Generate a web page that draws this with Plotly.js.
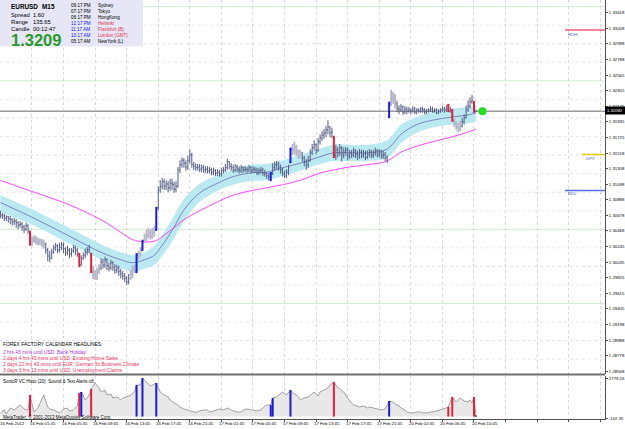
<!DOCTYPE html>
<html><head><meta charset="utf-8">
<script src="https://cdn.plot.ly/plotly-3.0.1.min.js"></script>
<style>html,body{margin:0;padding:0;background:#fff}#c{width:625px;height:429px}</style>
</head><body><div id="c"></div><script>
// ---- EURUSD M15 bars (price) ----
const open=[1.3072,1.3069,1.3068,1.3065,1.3067,1.3064,1.3063,1.3060,1.3061,1.3059,
1.3056,1.3057,1.3053,1.3050,1.3055,1.3046,1.3030,1.3036,1.3038,1.3036,
1.3033,1.3034,1.3032,1.3030,1.3022,1.3014,1.3011,1.3019,1.3025,1.3028,
1.3022,1.3026,1.3029,1.3024,1.3019,1.3022,1.3017,1.3021,1.3025,1.3022,
1.3017,1.3002,1.3011,1.3015,1.3019,1.3022,1.3017,1.2993,1.2989,1.2984,
1.2993,1.2998,1.3006,1.3002,1.3009,1.3001,1.2998,1.3005,1.2999,1.2995,
1.2998,1.2993,1.2990,1.2987,1.2984,1.2979,1.2984,1.2989,1.2995,1.2993,
1.3015,1.3017,1.3022,1.3034,1.3038,1.3042,1.3046,1.3041,1.3045,1.3049,
1.3079,1.3103,1.3108,1.3114,1.3108,1.3111,1.3106,1.3112,1.3110,1.3104,
1.3108,1.3130,1.3137,1.3143,1.3139,1.3134,1.3143,1.3150,1.3137,1.3135,
1.3133,1.3134,1.3131,1.3133,1.3130,1.3131,1.3129,1.3130,1.3127,1.3129,
1.3126,1.3127,1.3125,1.3129,1.3130,1.3133,1.3141,1.3135,1.3133,1.3130,
1.3134,1.3131,1.3129,1.3133,1.3130,1.3131,1.3130,1.3133,1.3129,1.3131,
1.3130,1.3127,1.3129,1.3130,1.3126,1.3125,1.3122,1.3116,1.3126,1.3133,
1.3137,1.3138,1.3134,1.3130,1.3125,1.3122,1.3127,1.3141,1.3158,1.3157,
1.3160,1.3154,1.3150,1.3153,1.3146,1.3141,1.3137,1.3143,1.3154,1.3160,
1.3164,1.3157,1.3168,1.3173,1.3177,1.3180,1.3184,1.3188,1.3180,1.3174,
1.3149,1.3157,1.3153,1.3160,1.3150,1.3154,1.3157,1.3149,1.3153,1.3150,
1.3156,1.3151,1.3149,1.3154,1.3150,1.3153,1.3147,1.3151,1.3154,1.3150,
1.3153,1.3156,1.3151,1.3154,1.3149,1.3151,1.3146,1.3201,1.3219,1.3224,
1.3230,1.3219,1.3213,1.3211,1.3215,1.3208,1.3212,1.3209,1.3211,1.3209,
1.3212,1.3208,1.3211,1.3209,1.3212,1.3211,1.3208,1.3209,1.3211,1.3212,
1.3209,1.3211,1.3208,1.3209,1.3211,1.3212,1.3211,1.3217,1.3209,1.3211,
1.3196,1.3192,1.3188,1.3185,1.3189,1.3195,1.3200,1.3211,1.3216,1.3222,
1.3222,1.3209];
const high=[1.3075,1.3072,1.3071,1.3069,1.3068,1.3068,1.3065,1.3065,1.3064,1.3061,
1.3061,1.3060,1.3056,1.3059,1.3057,1.3048,1.3040,1.3042,1.3041,1.3038,
1.3038,1.3037,1.3036,1.3032,1.3025,1.3021,1.3024,1.3029,1.3032,1.3030,
1.3032,1.3033,1.3032,1.3026,1.3028,1.3025,1.3025,1.3029,1.3028,1.3025,
1.3018,1.3015,1.3019,1.3024,1.3026,1.3029,1.3018,1.3001,1.2995,1.2998,
1.3003,1.3011,1.3010,1.3013,1.3011,1.3005,1.3009,1.3007,1.3003,1.3002,
1.3001,1.2997,1.2994,1.2991,1.2987,1.2990,1.2995,1.3001,1.3003,1.3018,
1.3021,1.3026,1.3036,1.3044,1.3049,1.3052,1.3050,1.3052,1.3055,1.3080,
1.3108,1.3116,1.3119,1.3118,1.3116,1.3115,1.3118,1.3118,1.3114,1.3115,
1.3134,1.3143,1.3147,1.3146,1.3143,1.3149,1.3158,1.3153,1.3141,1.3139,
1.3138,1.3138,1.3137,1.3137,1.3135,1.3135,1.3134,1.3133,1.3133,1.3131,
1.3131,1.3130,1.3133,1.3134,1.3138,1.3145,1.3142,1.3139,1.3137,1.3138,
1.3137,1.3135,1.3137,1.3135,1.3135,1.3134,1.3137,1.3135,1.3135,1.3134,
1.3133,1.3133,1.3134,1.3133,1.3130,1.3127,1.3126,1.3127,1.3139,1.3141,
1.3142,1.3141,1.3137,1.3133,1.3129,1.3131,1.3137,1.3160,1.3165,1.3168,
1.3164,1.3158,1.3157,1.3154,1.3149,1.3145,1.3149,1.3158,1.3165,1.3170,
1.3166,1.3173,1.3178,1.3182,1.3185,1.3189,1.3197,1.3189,1.3187,1.3176,
1.3164,1.3161,1.3165,1.3162,1.3160,1.3161,1.3160,1.3157,1.3157,1.3160,
1.3158,1.3156,1.3158,1.3157,1.3157,1.3156,1.3156,1.3158,1.3157,1.3157,
1.3160,1.3158,1.3158,1.3157,1.3156,1.3154,1.3150,1.3222,1.3238,1.3235,
1.3232,1.3223,1.3217,1.3219,1.3217,1.3216,1.3215,1.3215,1.3213,1.3216,
1.3215,1.3213,1.3213,1.3215,1.3215,1.3213,1.3212,1.3213,1.3216,1.3215,
1.3213,1.3213,1.3212,1.3213,1.3216,1.3215,1.3217,1.3219,1.3215,1.3212,
1.3200,1.3196,1.3193,1.3196,1.3200,1.3205,1.3217,1.3224,1.3228,1.3231,
1.3223,1.3211];
const low=[1.3065,1.3064,1.3061,1.3061,1.3059,1.3057,1.3055,1.3056,1.3052,1.3050,
1.3052,1.3048,1.3045,1.3048,1.3044,1.3028,1.3028,1.3032,1.3030,1.3028,
1.3029,1.3026,1.3024,1.3017,1.3007,1.3006,1.3010,1.3017,1.3021,1.3018,
1.3019,1.3022,1.3018,1.3014,1.3015,1.3011,1.3013,1.3018,1.3015,1.3013,
1.2999,1.3001,1.3009,1.3011,1.3015,1.3018,1.2991,1.2983,1.2982,1.2982,
1.2990,1.2995,1.2997,1.2998,1.2995,1.2993,1.2995,1.2994,1.2990,1.2991,
1.2987,1.2984,1.2982,1.2979,1.2975,1.2976,1.2982,1.2984,1.2991,1.2991,
1.3009,1.3013,1.3021,1.3032,1.3034,1.3038,1.3036,1.3037,1.3040,1.3048,
1.3076,1.3099,1.3104,1.3103,1.3103,1.3100,1.3102,1.3103,1.3099,1.3100,
1.3106,1.3126,1.3133,1.3133,1.3129,1.3130,1.3139,1.3133,1.3130,1.3129,
1.3129,1.3127,1.3127,1.3126,1.3126,1.3125,1.3125,1.3123,1.3123,1.3122,
1.3122,1.3121,1.3121,1.3125,1.3127,1.3130,1.3131,1.3129,1.3126,1.3127,
1.3127,1.3125,1.3126,1.3126,1.3127,1.3126,1.3127,1.3125,1.3126,1.3126,
1.3123,1.3123,1.3125,1.3122,1.3121,1.3118,1.3116,1.3115,1.3123,1.3129,
1.3131,1.3129,1.3125,1.3121,1.3119,1.3119,1.3123,1.3139,1.3150,1.3151,
1.3149,1.3145,1.3146,1.3141,1.3135,1.3130,1.3133,1.3141,1.3150,1.3156,
1.3151,1.3154,1.3164,1.3169,1.3172,1.3174,1.3178,1.3174,1.3173,1.3146,
1.3143,1.3147,1.3149,1.3141,1.3146,1.3149,1.3143,1.3145,1.3146,1.3147,
1.3146,1.3143,1.3145,1.3146,1.3146,1.3143,1.3145,1.3147,1.3146,1.3146,
1.3149,1.3147,1.3147,1.3145,1.3145,1.3142,1.3139,1.3200,1.3216,1.3219,
1.3213,1.3208,1.3205,1.3208,1.3204,1.3205,1.3205,1.3207,1.3205,1.3207,
1.3205,1.3205,1.3207,1.3207,1.3207,1.3205,1.3205,1.3207,1.3208,1.3207,
1.3207,1.3205,1.3205,1.3207,1.3208,1.3207,1.3208,1.3208,1.3207,1.3195,
1.3188,1.3184,1.3181,1.3182,1.3187,1.3191,1.3199,1.3208,1.3213,1.3219,
1.3207,1.3208];
const close=[1.3069,1.3068,1.3065,1.3067,1.3064,1.3063,1.3060,1.3061,1.3059,1.3056,
1.3057,1.3053,1.3050,1.3055,1.3048,1.3030,1.3036,1.3038,1.3036,1.3033,
1.3034,1.3032,1.3030,1.3022,1.3014,1.3011,1.3019,1.3025,1.3028,1.3022,
1.3026,1.3029,1.3024,1.3019,1.3022,1.3017,1.3021,1.3025,1.3022,1.3018,
1.3002,1.3011,1.3015,1.3019,1.3022,1.3025,1.2993,1.2989,1.2984,1.2993,
1.2998,1.3006,1.3002,1.3009,1.3001,1.2998,1.3005,1.2999,1.2995,1.2998,
1.2993,1.2990,1.2987,1.2984,1.2979,1.2984,1.2989,1.2995,1.2998,1.3015,
1.3017,1.3022,1.3034,1.3038,1.3042,1.3046,1.3041,1.3045,1.3049,1.3079,
1.3103,1.3108,1.3114,1.3108,1.3111,1.3106,1.3112,1.3110,1.3104,1.3108,
1.3130,1.3137,1.3143,1.3139,1.3134,1.3143,1.3150,1.3137,1.3135,1.3133,
1.3134,1.3131,1.3133,1.3130,1.3131,1.3129,1.3130,1.3127,1.3129,1.3126,
1.3127,1.3125,1.3129,1.3130,1.3133,1.3141,1.3135,1.3133,1.3130,1.3134,
1.3131,1.3129,1.3133,1.3130,1.3131,1.3130,1.3133,1.3129,1.3131,1.3130,
1.3127,1.3129,1.3130,1.3126,1.3125,1.3122,1.3121,1.3126,1.3133,1.3137,
1.3138,1.3134,1.3130,1.3125,1.3122,1.3127,1.3133,1.3158,1.3157,1.3160,
1.3154,1.3150,1.3153,1.3146,1.3141,1.3137,1.3143,1.3154,1.3160,1.3164,
1.3157,1.3168,1.3173,1.3177,1.3180,1.3184,1.3188,1.3180,1.3181,1.3149,
1.3157,1.3153,1.3160,1.3150,1.3154,1.3157,1.3149,1.3153,1.3150,1.3156,
1.3151,1.3149,1.3154,1.3150,1.3153,1.3147,1.3151,1.3154,1.3150,1.3153,
1.3156,1.3151,1.3154,1.3149,1.3151,1.3146,1.3143,1.3219,1.3224,1.3230,
1.3219,1.3213,1.3211,1.3215,1.3208,1.3212,1.3209,1.3211,1.3209,1.3212,
1.3208,1.3211,1.3209,1.3212,1.3211,1.3208,1.3209,1.3211,1.3212,1.3209,
1.3211,1.3208,1.3209,1.3211,1.3212,1.3211,1.3213,1.3209,1.3211,1.3196,
1.3192,1.3188,1.3185,1.3189,1.3195,1.3200,1.3211,1.3216,1.3222,1.3224,
1.3209,1.3209];
const redBars=[15,40,46,169,227,229,240];
const blueBars=[69,72,79,137,147,197];
const paleBars=[16,17,18,19,20,21,22,47,48,49,50,66,67,68,70,71,73,74,75,76,77,78,148,149,150,151,152,198,199,200,230,231,232,233];

// ---- moving averages (sampled at bar index) ----
const maIdx=[0,17,34,51,61,67,73,78,81,85,88,93,101,110,118,127,135,143,152,161,169,177,186,196,203,211,219,228,237,241];
const maMid=[1.3086,1.3065,1.3042,1.3019,1.3009,1.3005,1.3009,1.3015,1.3025,1.3040,1.3053,1.3076,1.3099,1.3112,1.3121,1.3126,1.3127,1.3133,1.3139,1.3147,1.3153,1.3153,1.3153,1.3158,1.3178,1.3191,1.3197,1.3201,1.3204,1.3207];
const maUp=[1.3096,1.3076,1.3053,1.3030,1.3019,1.3015,1.3019,1.3028,1.3038,1.3055,1.3068,1.3091,1.3111,1.3123,1.3131,1.3137,1.3138,1.3143,1.3150,1.3158,1.3164,1.3164,1.3164,1.3170,1.3191,1.3201,1.3208,1.3212,1.3215,1.3217];
const maLo=[1.3073,1.3055,1.3032,1.3009,1.2998,1.2993,1.2997,1.3002,1.3011,1.3025,1.3038,1.3061,1.3087,1.3102,1.3110,1.3115,1.3116,1.3122,1.3129,1.3137,1.3142,1.3142,1.3142,1.3146,1.3166,1.3180,1.3187,1.3191,1.3193,1.3196];
const maSlow=[1.3116,1.3100,1.3084,1.3063,1.3046,1.3036,1.3033,1.3034,1.3038,1.3046,1.3052,1.3063,1.3075,1.3087,1.3096,1.3102,1.3106,1.3110,1.3116,1.3125,1.3130,1.3134,1.3137,1.3142,1.3154,1.3162,1.3168,1.3174,1.3181,1.3185];

// ---- level lines ----
const greenLevels=[1.3350,1.3250,1.3050,1.2950];
const roundLevels=[1.3300,1.3200,1.3150,1.3100,1.3000,1.2900];
const quarterLevels=[1.3325,1.3275,1.3225,1.3175,1.3125,1.3075,1.3025,1.2975,1.2925,1.2875];
const RDH=1.33185, DPV=1.31508, RDL=1.31023;

// ---- axis labels ----
const yTickVals=[1.33418,1.33208,1.32998,1.32788,1.32578,1.32368,1.32158,1.31948,1.31738,1.31528,1.31318,1.31108,1.30898,1.30688,1.30478,1.30268,1.30058,1.29848,1.29638,1.29428,1.29218,1.29008,1.28798,1.28588];
const yTickText=["1.33418","1.33208","1.32998","1.32788","1.32565","1.32355","1.32145","1.31935","1.31725","1.31518","1.31308","1.31098","1.30888","1.30678","1.30468","1.30245","1.30035","1.29825","1.29615","1.29405","1.29198","1.28988","1.28778","1.28568"];
const xTickIdx=[0,15,31,47,63,79,95,111,127,143,159,175,191,207,223,239];
const xTickText=["16 Feb 2012","16 Feb 01:45","16 Feb 05:45","16 Feb 09:45","16 Feb 13:45","16 Feb 17:45","16 Feb 21:45","17 Feb 01:45","17 Feb 05:45","17 Feb 09:45","17 Feb 13:45","17 Feb 17:45","17 Feb 21:45","20 Feb 02:45","20 Feb 06:45","20 Feb 10:45"];
const gridIdx=[16,32,48,64,80,96,112,128,144,160,176,192,208,224,240,256,272,288,304];

// ---- SonicR VC histogram ----
const histIdx=[0,2,3,5,7,10,12,14,15,17,19,20,22,24,25,27,29,30,32,34,35,37,39,40,41,43,44,45,46,48,50,51,53,54,56,57,59,61,62,64,66,68,69,71,72,74,76,77,79,81,83,85,86,88,90,91,93,95,96,98,100,101,103,105,106,108,110,111,113,115,117,118,120,122,123,125,127,128,130,132,133,135,137,138,140,142,143,145,147,148,150,152,154,156,157,159,161,162,164,166,167,169,171,172,174,176,177,179,181,182,184,186,187,189,191,193,195,197,199,200,202,203,205,206,208,209,211,213,214,216,218,219,221,223,224,226,227,229,231,233,235,237,238,239,240,241];
const histVal=[259,475,187,619,475,835,547,475,1555,331,619,979,1555,691,547,475,331,259,547,619,403,475,763,1699,1771,1195,1339,1555,1987,2419,2059,1771,1915,1555,1627,1339,1411,1195,1339,1411,1555,1771,2275,2275,2779,2491,2203,2275,2419,1771,1555,1411,1195,979,835,691,547,475,403,331,331,403,475,475,331,403,475,547,475,619,475,403,331,331,475,547,475,475,403,475,619,835,835,1339,1411,1627,1771,1555,1915,1699,1555,1195,1339,1411,1555,1771,1483,1771,1915,2059,2275,2491,2059,1987,1771,1339,1123,835,763,691,763,619,691,619,547,475,547,1123,1051,907,763,619,475,331,259,259,331,331,259,259,331,331,403,475,547,619,691,1411,1051,1339,1123,1051,1195,979,1411,43];
const histRedIdx=[15,40,46,169,227,229,240];
const histRedVal=[1555,1699,1987,2491,691,1411,1411];
const histBlueIdx=[41,69,72,79,137,138,147,197];
const histBlueVal=[1771,2275,2779,2419,835,1339,1915,1123];
const histNowIdx=[241], histNowVal=[70];

// ---- helpers ----
function barPath(ids){const xs=[],ys=[];ids.forEach(i=>{xs.push(i,i,null,i-0.45,i,null,i,i+0.45,null);ys.push(low[i],high[i],null,open[i],open[i],null,close[i],close[i],null);});return {x:xs,y:ys};}
const special=new Set([...redBars,...blueBars,...paleBars]);
const normIds=[];for(let i=0;i<close.length;i++){if(!special.has(i))normIds.push(i);}
function barTrace(ids,color,w){const p=barPath(ids);return {type:'scatter',mode:'lines',x:p.x,y:p.y,line:{color:color,width:w},connectgaps:false,hoverinfo:'skip',xaxis:'x',yaxis:'y'};}
function histBars(ids,vals,color,w){const xs=[],ys=[];ids.forEach((i,k)=>{xs.push(i,i,null);ys.push(0,vals[k],null);});return {type:'scatter',mode:'lines',x:xs,y:ys,xaxis:'x',yaxis:'y2',line:{color:color,width:w},connectgaps:false,hoverinfo:'skip'};}

const W=605,H=419;
const px=x=>x/W, py=y=>(H-y)/H;
const F='Liberation Sans';
const ann=[];
function A(t,x,y,s,c,o){ann.push(Object.assign({text:t,x:px(x),y:py(y),xref:'paper',yref:'paper',xanchor:'left',yanchor:'middle',showarrow:false,borderpad:0,borderwidth:0,font:{family:F,size:s,color:c||'#000'}},o||{}));}

// info box
A('<b>EURUSD</b>',11,6.5,6.4); A('<b>M15</b>',42,6.5,6.4);
A('Spread',11,15,5.8); A('1.60',33,15,5.8);
A('Range',11,22.3,5.8); A('135.65',33,22.3,5.8);
A('Candle',11,28.8,5.8); A('00:12:47',33,28.8,5.8);
A('<b>1.3209</b>',11,39.8,16.5,'#2a9a2a');
const tCol=['#000','#000','#000','#2020ff','#2020ff','#2020ff','#000'];
const nCol=['#000','#000','#000','#e0304a','#e0304a','#e0304a','#000'];
const times=['09:17 PM','07:17 PM','06:17 PM','12:17 PM','11:17 AM','10:17 AM','05:17 AM'];
const cities=['Sydney','Tokyo','HongKong','Helsinki','Frankfurt (B)','London (GMT)','NewYork (L)'];
const ty=[5.8,11.7,17.6,23.4,29.3,35.1,41];
times.forEach((t,k)=>{A(t,71,ty[k],4.6,tCol[k]);A(cities[k],98,ty[k],4.6,nCol[k]);});
// calendar
A('FOREX FACTORY CALENDAR HEADLINES:',3,344.7,4.9);
A('2 hrs 43 mins until USD: Bank Holiday',3,352,4.9,'#a030d8');
A('2 days 4 hrs 43 mins until USD: Existing Home Sales',3,358,4.9,'#e8305a');
A('2 days 22 hrs 43 mins until EUR: German Ifo Business Climate',3,364,4.9,'#e8305a');
A('3 days 3 hrs 13 mins until USD: Unemployment Claims',3,370,4.9,'#e8305a');
// sub window
A('SonicR VC Histo (20)  Sound &amp; Text Alerts off.',3,381,4.5);
A('MetaTrader, © 2001-2013 MetaQuotes Software Corp.',3,416.5,4.5);
// level labels
A('RDH',568,34.5,4.4,'#5060a8'); A('DPV',586,158.5,4.4,'#5060a8'); A('RDL',568,194,4.4,'#5060a8');
A('1.32092',607,110.5,4.2,'#fff');
// x labels
xTickIdx.forEach((v,k)=>{ann.push({text:xTickText[k],x:v,y:py(424),xref:'x',yref:'paper',xanchor:'left',yanchor:'middle',showarrow:false,borderpad:0,borderwidth:0,font:{family:F,size:4.3,color:'#000'}});});

const shapes=[];
function hl(v,c,dash,w){shapes.push({type:'line',xref:'paper',yref:'y',x0:0,x1:1,y0:v,y1:v,layer:'below',line:{color:c,width:w||1,dash:dash}});}
quarterLevels.forEach(v=>hl(v,'#f4e2e6','dot'));
roundLevels.forEach(v=>hl(v,'#dedef4','dot'));
greenLevels.forEach(v=>hl(v,'#cdeecd','solid'));
hl(close[close.length-1],'#9a9a9a','solid',1.5);
shapes.push({type:'line',xref:'paper',yref:'y',x0:px(565),x1:1,y0:RDH,y1:RDH,line:{color:'#ff5a78',width:1.5}});
shapes.push({type:'line',xref:'paper',yref:'y',x0:px(582),x1:1,y0:DPV,y1:DPV,line:{color:'#d8d000',width:1.5}});
shapes.push({type:'line',xref:'paper',yref:'y',x0:px(565),x1:1,y0:RDL,y1:RDL,line:{color:'#5a6ee8',width:1.5}});
shapes.push({type:'rect',xref:'paper',yref:'paper',x0:0,x1:px(143),y0:py(46.5),y1:1,fillcolor:'#e6e6f6',line:{width:0},layer:'above'});
shapes.push({type:'rect',xref:'paper',yref:'paper',x0:1,x1:px(625),y0:py(114.5),y1:py(106.5),fillcolor:'#000',line:{width:0}});
shapes.push({type:'line',xref:'paper',yref:'paper',x0:0,x1:1,y0:py(374.5),y1:py(374.5),line:{color:'#707070',width:2}});

const traces=[
 {type:'scatter',mode:'lines',x:maIdx,y:maLo,line:{color:'rgba(0,0,0,0)',width:0,shape:'spline'},hoverinfo:'skip'},
 {type:'scatter',mode:'lines',x:maIdx,y:maUp,line:{color:'rgba(0,0,0,0)',width:0,shape:'spline'},fill:'tonexty',fillcolor:'#bae9f1',hoverinfo:'skip'},
 {type:'scatter',mode:'lines',x:maIdx,y:maMid,line:{color:'#7a86c0',width:1,shape:'spline'},hoverinfo:'skip'},
 {type:'scatter',mode:'lines',x:maIdx,y:maSlow,line:{color:'#ff44ff',width:1,shape:'spline'},hoverinfo:'skip'},
 barTrace(normIds,'#555d84',1),
 barTrace(paleBars,'#b4b6c8',1.8),
 barTrace(redBars,'#d8243c',2),
 barTrace(blueBars,'#1c1cd0',2),
 {type:'scatter',mode:'markers',x:[close.length+2.3],y:[close[close.length-1]],marker:{color:'#22dd22',size:8,line:{width:0}},hoverinfo:'skip'},
 {type:'scatter',mode:'lines',x:histIdx,y:histVal,xaxis:'x',yaxis:'y2',fill:'tozeroy',fillcolor:'#ffffff',fillpattern:{shape:'|',fgcolor:'#d2d2d2',bgcolor:'#ffffff',size:2,solidity:0.5},line:{color:'#a0a0a0',width:1},hoverinfo:'skip'},
 histBars(histRedIdx,histRedVal,'#e0203c',2),
 histBars(histBlueIdx,histBlueVal,'#1c1cd0',2),
 histBars(histNowIdx,histNowVal,'#000',2)
];

const layout={width:625,height:429,margin:{l:0,r:20,t:0,b:10,pad:0},paper_bgcolor:'#fff',plot_bgcolor:'#fff',showlegend:false,
 xaxis:{domain:[0,1],range:[-0.2,306.4],anchor:'y2',tickvals:gridIdx,showticklabels:false,ticks:'outside',ticklen:2,tickcolor:'#505050',showgrid:true,griddash:'dot',gridcolor:'#d6d6de',gridwidth:1,showline:true,linecolor:'#505050',linewidth:1,zeroline:false,fixedrange:true,layer:'below traces'},
 yaxis:{domain:[1-374/419,1],range:[1.28551,1.33589],anchor:'x',side:'right',tickvals:yTickVals,ticktext:yTickText,ticks:'outside',ticklen:2,tickcolor:'#505050',tickfont:{family:F,size:4.3,color:'#000'},showgrid:false,showline:true,linecolor:'#505050',linewidth:1,zeroline:false},
 yaxis2:{domain:[0,43/419],range:[-174.4,2923.3],anchor:'x',side:'right',tickvals:[2779.26,-102.35],ticktext:['2779.26','-102.35'],ticks:'outside',ticklen:2,tickcolor:'#505050',tickfont:{family:F,size:4.3,color:'#000'},showgrid:false,showline:true,linecolor:'#505050',linewidth:1,zeroline:false},
 shapes:shapes,annotations:ann,hovermode:false};
Plotly.newPlot('c',traces,layout,{staticPlot:true,displayModeBar:false});
</script></body></html>
